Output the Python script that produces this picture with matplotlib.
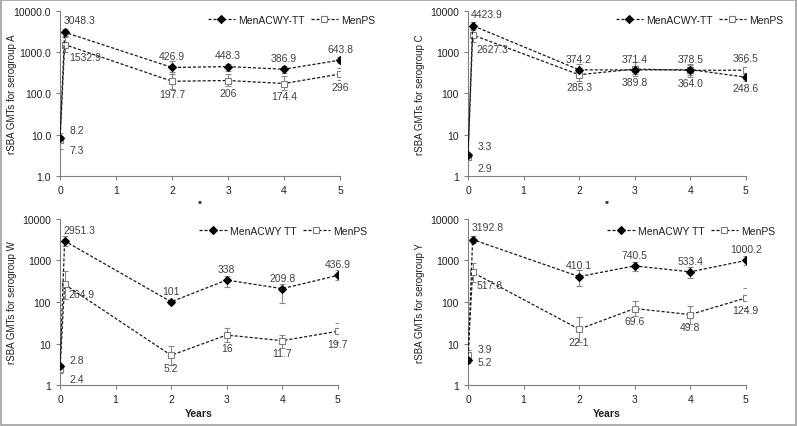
import matplotlib.pyplot as plt
from matplotlib.patches import Rectangle

# time points (years); second point is one month after vaccination
X = [0, 0.083, 2, 3, 4, 5]
X_TICKS = [0, 1, 2, 3, 4, 5]

# serogroup A
A_ACWY = [8.2, 3048.3, 426.9, 448.3, 386.9, 643.8]
A_ACWY_LO = [7.0, 2500, 300, 360, 320, 540]
A_ACWY_HI = [9.5, 3700, 600, 530, 460, 760]
A_PS = [7.3, 1532.9, 197.7, 206, 174.4, 296]
A_PS_LO = [4.5, 1000, 130, 150, 120, 210]
A_PS_HI = [11, 2300, 340, 300, 260, 420]
A_ACWY_TXT = ["8.2", "3048.3", "426.9", "448.3", "386.9", "643.8"]
A_PS_TXT = ["7.3", "1532.9", "197.7", "206", "174.4", "296"]

# serogroup C
C_ACWY = [3.3, 4423.9, 374.2, 371.4, 378.5, 248.6]
C_ACWY_LO = [3.0, 3500, 270, 290, 280, 200]
C_ACWY_HI = [3.7, 5500, 520, 470, 500, 300]
C_PS = [2.9, 2627.3, 285.3, 389.8, 364.0, 366.5]
C_PS_LO = [2.6, 1800, 200, 270, 250, 230]
C_PS_HI = [3.3, 3600, 400, 570, 530, 590]
C_ACWY_TXT = ["3.3", "4423.9", "374.2", "371.4", "378.5", "248.6"]
C_PS_TXT = ["2.9", "2627.3", "285.3", "389.8", "364.0", "366.5"]

# serogroup W
W_ACWY = [2.8, 2951.3, 101, 338, 209.8, 436.9]
W_ACWY_LO = [2.4, 2200, 92, 230, 95, 330]
W_ACWY_HI = [3.2, 3900, 112, 430, 270, 600]
W_PS = [2.4, 264.9, 5.2, 16, 11.7, 19.7]
W_PS_LO = [2.0, 120, 3.0, 11, 8, 11]
W_PS_HI = [2.9, 560, 8.5, 23, 16, 32]
W_ACWY_TXT = ["2.8", "2951.3", "101", "338", "209.8", "436.9"]
W_PS_TXT = ["2.4", "264.9", "5.2", "16", "11.7", "19.7"]

# serogroup Y
Y_ACWY = [3.9, 3192.8, 410.1, 740.5, 533.4, 1000.2]
Y_ACWY_LO = [3.4, 2600, 240, 560, 380, 800]
Y_ACWY_HI = [4.4, 3800, 600, 900, 680, 1250]
Y_PS = [5.2, 517.8, 22.1, 69.6, 49.8, 124.9]
Y_PS_LO = [4.0, 300, 11, 45, 30, 70]
Y_PS_HI = [6.8, 870, 43, 105, 80, 220]
Y_ACWY_TXT = ["3.9", "3192.8", "410.1", "740.5", "533.4", "1000.2"]
Y_PS_TXT = ["5.2", "517.8", "22.1", "69.6", "49.8", "124.9"]

ABOVE = (0, 8, "center")
BELOW = (0, -9, "center")

PANELS = [
    dict(rect=[0.0752, 0.5855, 0.351, 0.3865], group="A", fmt="{:.1f}", leg="MenACWY-TT",
         acwy=(A_ACWY, A_ACWY_LO, A_ACWY_HI, A_ACWY_TXT),
         ps=(A_PS, A_PS_LO, A_PS_HI, A_PS_TXT),
         acwy_off=[(7, 6, "left"), (-1, 9, "left"), ABOVE, ABOVE, ABOVE, ABOVE],
         ps_off=[(7, -7, "left"), (3, -9, "left"), BELOW, BELOW, BELOW, BELOW],
         xlabel="''", leg_anchor=(1.14, 1.0)),
    dict(rect=[0.5865, 0.5855, 0.348, 0.3865], group="C", fmt="{:.0f}", leg="MenACWY-TT",
         acwy=(C_ACWY, C_ACWY_LO, C_ACWY_HI, C_ACWY_TXT),
         ps=(C_PS, C_PS_LO, C_PS_HI, C_PS_TXT),
         acwy_off=[(7, 6, "left"), (-1, 8, "left"), ABOVE, ABOVE, ABOVE, (0, -8, "center")],
         ps_off=[(7, -8, "left"), (3, -10, "left"), BELOW, BELOW, BELOW, (0, 9, "center")],
         xlabel="''", leg_anchor=(1.15, 1.0)),
    dict(rect=[0.0752, 0.096, 0.348, 0.3888], group="W", fmt="{:.0f}", leg="MenACWY TT",
         acwy=(W_ACWY, W_ACWY_LO, W_ACWY_HI, W_ACWY_TXT),
         ps=(W_PS, W_PS_LO, W_PS_HI, W_PS_TXT),
         acwy_off=[(7, 5, "left"), (-1, 8, "left"), ABOVE, ABOVE, ABOVE, ABOVE],
         ps_off=[(7, -7, "left"), (3, -7, "left"), BELOW, BELOW, BELOW, BELOW],
         xlabel="Years", leg_anchor=(1.12, 0.985)),
    dict(rect=[0.5865, 0.096, 0.348, 0.3888], group="Y", fmt="{:.0f}", leg="MenACWY TT",
         acwy=(Y_ACWY, Y_ACWY_LO, Y_ACWY_HI, Y_ACWY_TXT),
         ps=(Y_PS, Y_PS_LO, Y_PS_HI, Y_PS_TXT),
         acwy_off=[(7, 8, "left"), (-1, 9, "left"), ABOVE, ABOVE, ABOVE, ABOVE],
         ps_off=[(7, -5, "left"), (3, -9, "left"), BELOW, BELOW, BELOW, BELOW],
         xlabel="Years", leg_anchor=(1.12, 0.985)),
]

TEXT = "#404040"
FS = 7.5


def draw_series(ax, vals, lo, hi, marker, mfc, mec, label, zorder):
    err = [[v - l for v, l in zip(vals, lo)], [h - v for v, h in zip(vals, hi)]]
    ax.errorbar(X, vals, yerr=err, fmt="none", ecolor="#8a8a8a", elinewidth=0.8,
                capsize=2, capthick=0.8, zorder=zorder - 1)
    ax.plot(X, vals, ls=(0, (2.5, 1.5)), lw=0.9, color="#1a1a1a", marker=marker,
            ms=3.8, mfc=mfc, mec=mec, mew=0.8, label=label, zorder=zorder)


def annotate(ax, vals, texts, offsets):
    for x, v, t, (dx, dy, ha) in zip(X, vals, texts, offsets):
        ax.annotate(t, (x, v), xytext=(dx, dy), textcoords="offset points",
                    ha=ha, va="center", fontsize=FS, color=TEXT)


def main():
    plt.rcParams["font.family"] = ["Liberation Sans", "DejaVu Sans"]
    fig = plt.figure(figsize=(7.98, 4.27), dpi=100)
    fig.patches.append(Rectangle((0.001, 0.002), 0.997, 0.995, transform=fig.transFigure,
                                 fill=False, ec="#a0a0a0", lw=1.2))

    for p in PANELS:
        ax = fig.add_axes(p["rect"])
        draw_series(ax, *p["acwy"][:3], marker="D", mfc="black", mec="black",
                    label=p["leg"], zorder=4)
        draw_series(ax, *p["ps"][:3], marker="s", mfc="white", mec="#7f7f7f",
                    label="MenPS", zorder=3)
        annotate(ax, p["acwy"][0], p["acwy"][3], p["acwy_off"])
        annotate(ax, p["ps"][0], p["ps"][3], p["ps_off"])

        ax.set_yscale("log")
        ax.set_ylim(1, 10000)
        ax.set_xlim(0, 5)
        ax.set_xticks(X_TICKS)
        ax.set_yticks([1, 10, 100, 1000, 10000])
        ax.set_yticklabels([p["fmt"].format(v) for v in [1, 10, 100, 1000, 10000]])
        ax.minorticks_off()
        ax.tick_params(axis="both", labelsize=FS, colors="#808080", labelcolor="#202020",
                       length=3, width=0.8)
        for s in ("top", "right"):
            ax.spines[s].set_visible(False)
        for s in ("left", "bottom"):
            ax.spines[s].set_color("#808080")
            ax.spines[s].set_linewidth(0.8)
        ax.set_ylabel(f"rSBA GMTs for serogroup {p['group']}", fontsize=7, color="#202020")
        ax.yaxis.set_label_coords(-0.155, 0.5)
        ax.set_xlabel(p["xlabel"], fontsize=FS, color="#202020", fontweight="bold", labelpad=3)

        ax.legend(loc="upper right", bbox_to_anchor=p["leg_anchor"], ncol=2, frameon=False,
                  fontsize=FS, handlelength=2.6, columnspacing=0.6, handletextpad=0.3,
                  borderaxespad=0, labelcolor="#202020")

    fig.savefig("out.png", dpi=100)


if __name__ == "__main__":
    main()
